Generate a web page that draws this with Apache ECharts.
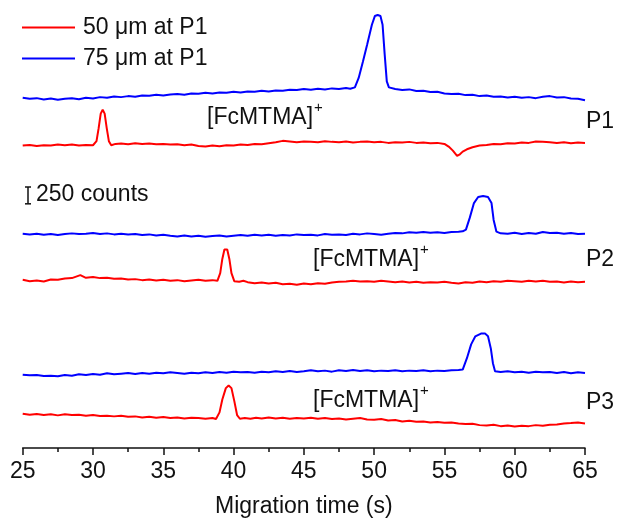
<!DOCTYPE html>
<html>
<head>
  <meta charset="utf-8">
  <title>Migration time traces</title>
  <script src="https://cdn.jsdelivr.net/npm/echarts@6/dist/echarts.min.js"></script>
  <style type="text/css">
    html, body { margin: 0; padding: 0; background: #fff; }
    #main { width: 617px; height: 523px; }
  </style>
</head>
<body>
<div id="main"></div>
<script type="text/javascript">
  // x ticks (s)
  var xTicks = [25, 30, 35, 40, 45, 50, 55, 60, 65];

  // signal above each trace's own baseline, [time (s), counts]
  var p1Blue = [[25,-45],[25.5,-60],[26,-50],[26.5,-70],[27,-55],[27.5,-75],[28,-60],[28.5,-50],[29,-65],[29.5,-45],[30,-55],[30.5,-35],[31,-45],[31.5,-25],[32,-35],[32.5,-20],[33,-30],[33.5,-10],[34,-15],[34.5,0],[35,-10],[35.5,5],[36,10],[36.5,0],[37,20],[37.5,15],[38,30],[38.5,20],[39,35],[39.5,30],[40,45],[40.5,35],[41,50],[41.5,45],[42,60],[42.5,50],[43,65],[43.5,60],[44,75],[44.5,70],[45,85],[45.5,75],[46,90],[46.5,80],[47,95],[47.5,85],[48,100],[48.3,90],[48.63,110],[48.9,250],[49.2,490],[49.5,745],[49.84,1040],[50.05,1170],[50.25,1185],[50.45,1170],[50.6,1040],[50.75,600],[50.9,200],[51.05,110],[51.5,85],[52,70],[52.5,80],[53,55],[53.5,60],[54,40],[54.5,45],[55,20],[55.5,10],[56,15],[56.5,-5],[57,0],[57.5,-20],[58,-10],[58.5,-30],[59,-25],[59.5,-40],[60,-30],[60.5,-45],[61,-35],[61.5,-50],[62,-30],[62.5,-20],[63,-40],[63.5,-35],[64,-55],[64.5,-60],[65,-80]];
  var p1Red = [[25,-5],[25.5,5],[26,-10],[26.5,0],[27,-5],[27.5,10],[28,0],[28.5,10],[29,-5],[29.5,5],[30,0],[30.25,60],[30.4,250],[30.55,470],[30.69,528],[30.83,470],[30.98,250],[31.13,60],[31.3,0],[31.6,20],[32,25],[32.5,15],[33,30],[33.5,20],[34,25],[34.5,15],[35,20],[35.5,10],[36,15],[36.5,0],[37,10],[37.5,-10],[38,-20],[38.5,-5],[39,-15],[39.5,0],[40,-5],[40.5,10],[41,5],[41.5,20],[42,15],[42.5,30],[43,45],[43.5,65],[44,55],[44.5,45],[45,55],[45.5,50],[46,45],[46.5,60],[47,50],[47.5,45],[48,55],[48.5,40],[49,50],[49.5,55],[50,45],[50.5,50],[51,35],[51.5,45],[52,40],[52.5,50],[53,35],[53.5,40],[54,30],[54.5,35],[55,20],[55.3,-20],[55.6,-80],[55.9,-157],[56.1,-135],[56.3,-95],[56.6,-60],[57,-30],[57.5,-5],[58,5],[58.5,20],[59,15],[59.5,30],[60,25],[60.5,40],[61,35],[61.5,55],[62,50],[62.5,45],[63,35],[63.5,45],[64,30],[64.5,40],[65,35]];
  var p2Blue = [[25,-15],[25.5,-25],[26,-15],[26.5,-30],[27,-20],[27.5,-35],[28,-20],[28.5,-10],[29,-20],[29.5,-15],[30,-5],[30.5,-20],[31,-10],[31.5,-25],[32,-15],[32.5,-25],[33,-20],[33.5,-35],[34,-25],[34.5,-40],[35,-30],[35.5,-45],[36,-55],[36.5,-40],[37,-55],[37.5,-45],[38,-60],[38.5,-50],[39,-40],[39.5,-55],[40,-45],[40.5,-35],[41,-45],[41.5,-30],[42,-40],[42.5,-30],[43,-45],[43.5,-35],[44,-40],[44.5,-25],[45,-35],[45.5,-30],[46,-40],[46.5,-20],[47,-30],[47.5,-25],[48,-35],[48.5,-15],[49,-25],[49.5,-10],[50,-20],[50.5,-30],[51,-15],[51.5,-5],[52,-10],[52.5,5],[53,0],[53.5,10],[54,0],[54.5,5],[55,-5],[55.5,10],[56,15],[56.3,20],[56.53,45],[56.8,220],[57.1,440],[57.4,530],[57.75,545],[58.1,530],[58.35,440],[58.5,190],[58.7,15],[59,-10],[59.5,-15],[60,0],[60.5,-20],[61,-5],[61.5,-15],[62,10],[62.5,-5],[63,0],[63.5,-15],[64,-5],[64.5,-20],[65,-15]];
  var p2Red = [[25,20],[25.5,0],[26,10],[26.5,-5],[27,25],[27.5,20],[28,40],[28.5,45],[29.1,90],[29.5,50],[30,60],[30.5,45],[31,50],[31.5,35],[32,40],[32.5,25],[33,30],[33.5,15],[34,25],[34.5,10],[35,20],[35.5,5],[36,15],[36.5,0],[37,10],[37.5,20],[38,5],[38.5,15],[38.85,5],[39.05,120],[39.2,330],[39.35,470],[39.44,490],[39.55,470],[39.7,330],[39.85,120],[40.05,0],[40.4,-10],[40.7,5],[41,-15],[41.5,-30],[42,-20],[42.5,-35],[43,-25],[43.5,-45],[44,-40],[44.5,-55],[45,-35],[45.5,-45],[46,-30],[46.5,-40],[47,-20],[47.5,-10],[48,-5],[48.5,5],[49,-5],[49.5,0],[50,-10],[50.5,5],[51,-5],[51.5,-15],[52,-5],[52.5,-20],[53,-10],[53.5,-25],[54,-15],[54.5,-20],[55,-10],[55.5,-25],[56,-35],[56.5,-15],[57,-25],[57.5,-5],[58,-15],[58.5,0],[59,-10],[59.5,5],[60,0],[60.5,-10],[61,5],[61.5,-5],[62,5],[62.5,-10],[63,-5],[63.5,-20],[64,-5],[64.5,-15],[65,-10]];
  var p3Blue = [[25,-10],[25.5,-20],[26,-15],[26.5,-30],[27,-25],[27.5,-35],[28,-15],[28.5,-25],[29,-5],[29.5,-15],[30,0],[30.5,-10],[31,10],[31.5,-5],[32,5],[32.5,15],[33,0],[33.5,15],[34,5],[34.5,20],[35,10],[35.5,25],[36,15],[36.5,5],[37,20],[37.5,10],[38,25],[38.5,15],[39,30],[39.5,20],[40,35],[40.5,25],[41,30],[41.5,20],[42,35],[42.5,25],[43,40],[43.5,30],[44,45],[44.5,30],[45,40],[45.5,55],[46,40],[46.5,50],[47,35],[47.5,55],[48,45],[48.5,60],[49,45],[49.5,55],[50,40],[50.5,50],[51,45],[51.5,55],[52,40],[52.5,50],[53,45],[53.5,55],[54,40],[54.5,50],[55,45],[55.5,55],[56,60],[56.3,65],[56.6,235],[56.9,440],[57.2,560],[57.6,600],[57.9,600],[58.1,560],[58.3,380],[58.45,160],[58.6,40],[59,30],[59.5,40],[60,25],[60.5,35],[61,20],[61.5,35],[62,25],[62.5,30],[63,15],[63.5,30],[64,10],[64.5,25],[65,15]];
  var p3Red = [[25,60],[25.5,45],[26,55],[26.5,40],[27,50],[27.5,35],[28,50],[28.5,40],[29,45],[29.5,30],[30,40],[30.5,25],[31,30],[31.5,20],[32,30],[32.5,15],[33,20],[33.5,5],[34,15],[34.5,0],[35,10],[35.5,-5],[36,5],[36.5,-10],[37,0],[37.5,-5],[38,-15],[38.5,-5],[38.75,-20],[39.0,80],[39.2,270],[39.45,440],[39.65,480],[39.85,440],[40.05,250],[40.25,40],[40.45,-15],[40.8,-5],[41.2,-15],[41.6,0],[42,-10],[42.5,5],[43,-10],[43.5,0],[44,-15],[44.5,-5],[45,-10],[45.5,0],[46,-15],[46.5,-5],[47,-20],[47.5,-10],[48,-25],[48.5,-15],[49,-5],[49.5,-25],[50,-30],[50.5,-20],[51,-40],[51.5,-35],[52,-55],[52.5,-45],[53,-60],[53.5,-55],[54,-70],[54.5,-65],[55,-75],[55.5,-70],[56,-85],[56.5,-95],[57,-90],[57.5,-110],[58,-115],[58.5,-105],[59,-125],[59.5,-115],[60,-130],[60.5,-120],[61,-125],[61.5,-110],[62,-120],[62.5,-105],[63,-100],[63.5,-85],[64,-80],[64.5,-70],[65,-85]];

  var names = ['50 \u03bcm at P1', '75 \u03bcm at P1'];
  var scaleCounts = 250;

  // vertical stacking of the traces (counts)
  var offsets = { p1Blue: 5250, p1Red: 4500, p2Blue: 3200, p2Red: 2480, p3Blue: 1100, p3Red: 450 };
  var RED = '#ff0000', BLUE = '#0000ff';
  var FONT = 'Liberation Sans, Arial, sans-serif';

  function shift(arr, off) {
    return arr.map(function (p) { return [p[0], p[1] + off]; });
  }
  function trace(name, arr, off, color) {
    return {
      name: name, type: 'line', data: shift(arr, off),
      showSymbol: false, symbol: 'none', smooth: false,
      lineStyle: { color: color, width: 2 }, itemStyle: { color: color }
    };
  }

  var chart = echarts.init(document.getElementById('main'));
  chart.setOption({
    animation: false,
    backgroundColor: '#fff',
    textStyle: { fontFamily: FONT },
    grid: { left: 22.7, right: 32, top: 10, bottom: 70 },
    legend: {
      data: names, orient: 'vertical', left: 22, top: 16,
      icon: 'rect', itemWidth: 53, itemHeight: 2, itemGap: 8, padding: 0,
      textStyle: { fontSize: 23, color: '#111', fontFamily: FONT, padding: [0, 0, 0, 3] }
    },
    xAxis: {
      type: 'value', min: xTicks[0], max: xTicks[xTicks.length - 1], interval: 5,
      name: 'Migration time (s)', nameLocation: 'middle', nameGap: 47,
      nameTextStyle: { fontSize: 23, color: '#111', fontFamily: FONT },
      axisLine: { onZero: false, lineStyle: { color: '#111', width: 1.5 } },
      axisTick: { length: 7, lineStyle: { color: '#111', width: 1.5 } },
      minorTick: { show: true, splitNumber: 2, length: 4, lineStyle: { color: '#111', width: 1.5 } },
      axisLabel: { fontSize: 23, color: '#111', margin: 12, fontFamily: FONT },
      splitLine: { show: false }
    },
    yAxis: { type: 'value', min: 0, max: 6510, show: false, splitLine: { show: false } },
    series: [
      trace(names[1], p1Blue, offsets.p1Blue, BLUE),
      trace(names[0], p1Red, offsets.p1Red, RED),
      trace(names[1], p2Blue, offsets.p2Blue, BLUE),
      trace(names[0], p2Red, offsets.p2Red, RED),
      trace(names[1], p3Blue, offsets.p3Blue, BLUE),
      trace(names[0], p3Red, offsets.p3Red, RED)
    ]
  });

  // annotations
  var barLen = chart.convertToPixel({ yAxisIndex: 0 }, 0) - chart.convertToPixel({ yAxisIndex: 0 }, scaleCounts);
  var barTop = 187, barX = 28;
  function txt(x, y, s, size) {
    return { type: 'text', left: x, top: y, style: { text: s, font: (size || 23) + 'px ' + FONT, fill: '#111' } };
  }
  function line(x1, y1, x2, y2) {
    return { type: 'line', shape: { x1: x1, y1: y1, x2: x2, y2: y2 }, style: { stroke: '#111', lineWidth: 1.5 } };
  }
  chart.setOption({
    graphic: [
      line(barX, barTop, barX, barTop + barLen),
      line(barX - 3, barTop, barX + 3, barTop),
      line(barX - 3, barTop + barLen, barX + 3, barTop + barLen),
      txt(36, 183, '250 counts'),
      txt(207, 106, '[FcMTMA]'), txt(314, 100, '+', 15),
      txt(313, 248, '[FcMTMA]'), txt(420, 242, '+', 15),
      txt(313, 389, '[FcMTMA]'), txt(420, 383, '+', 15),
      txt(586, 110, 'P1'),
      txt(586, 248, 'P2'),
      txt(586, 391, 'P3')
    ]
  });
</script>
</body>
</html>
